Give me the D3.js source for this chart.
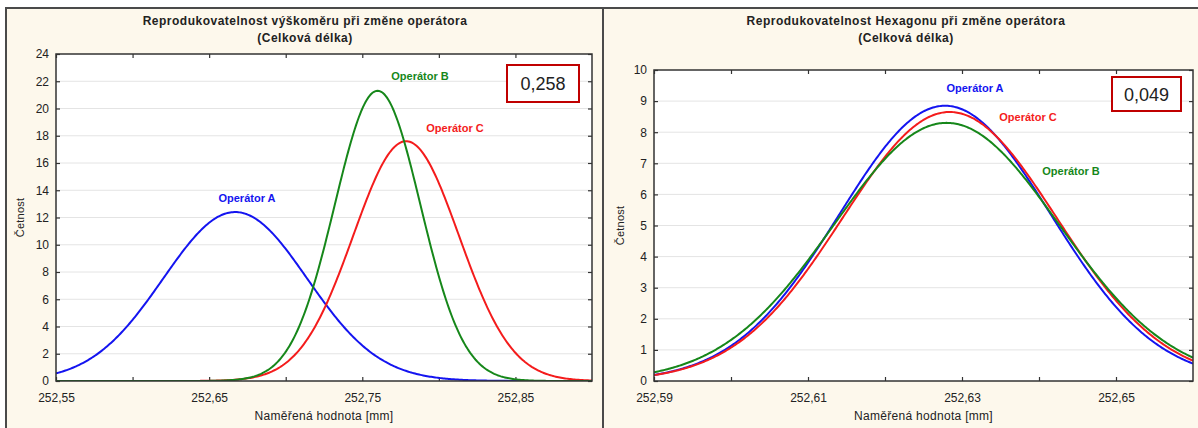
<!DOCTYPE html>
<html><head><meta charset="utf-8">
<script src="https://cdn.jsdelivr.net/npm/d3@7"></script>
<style>
body{margin:0;background:#fff}
svg{display:block}
text{font-family:"Liberation Sans",Arial,sans-serif;fill:#222}
</style>
</head><body>
<svg id="chart" width="1198" height="428"></svg>
<script>
// Operators compared in both panels
const operators = ["Operátor A", "Operátor B", "Operátor C"];

// Left panel: height gauge (výškoměr) – normal fits per operator
const leftMeans  = [252.667, 252.760, 252.7786];
const leftSigmas = [0.047, 0.028, 0.0345];
const leftPeaks  = [12.4, 21.3, 17.6];
const leftXTicks  = [252.55, 252.60, 252.65, 252.70, 252.75, 252.80, 252.85];
const leftXLabels = [252.55, 252.65, 252.75, 252.85];
const leftYTicks  = [0, 2, 4, 6, 8, 10, 12, 14, 16, 18, 20, 22, 24];
const leftValue   = "0,258";

// Right panel: Hexagon CMM – normal fits per operator
const rightMeans  = [252.6278, 252.628, 252.6284];
const rightSigmas = [0.0137, 0.0146, 0.0139];
const rightPeaks  = [8.85, 8.3, 8.65];
const rightXTicks  = [252.59, 252.60, 252.61, 252.62, 252.63, 252.64, 252.65];
const rightXLabels = [252.59, 252.61, 252.63, 252.65];
const rightYTicks  = [0, 1, 2, 3, 4, 5, 6, 7, 8, 9, 10];
const rightValue   = "0,049";

const colors = ["#1414f0", "#16871a", "#f41c1c"];

const cz = d3.formatLocale({decimal: ",", thousands: " ", grouping: [3], currency: ["", " Kč"]});
const fmt2 = cz.format(".2f");

const svg = d3.select("#chart");

// Cream panel background and frame
svg.append("rect").attr("x", 6).attr("y", 8).attr("width", 1192).attr("height", 420).attr("fill", "#fdf8ec");
const frame = svg.append("g").attr("stroke", "#4a4a4a").attr("stroke-width", 2);
frame.append("line").attr("x1", 5).attr("x2", 1198).attr("y1", 8).attr("y2", 8);
frame.append("line").attr("x1", 6).attr("x2", 6).attr("y1", 8).attr("y2", 428);
frame.append("line").attr("x1", 603).attr("x2", 603).attr("y1", 8).attr("y2", 428);

const panels = [
  {
    title: "Reprodukovatelnost výškoměru při změne operátora", titleX: 305,
    box: {x: 56, y: 54, w: 536, h: 327},
    xDomain: [252.55, 252.90], yDomain: [0, 24],
    means: leftMeans, sigmas: leftSigmas, peaks: leftPeaks,
    xTicks: leftXTicks, xLabels: leftXLabels, yTicks: leftYTicks, value: leftValue,
    valueBox: {x: 507, y: 65, w: 72, h: 37},
    labelPos: [[247, 202], [420, 80], [455, 132]]
  },
  {
    title: "Reprodukovatelnost Hexagonu při změne operátora", titleX: 906,
    box: {x: 654, y: 70, w: 539, h: 311},
    xDomain: [252.59, 252.66], yDomain: [0, 10],
    means: rightMeans, sigmas: rightSigmas, peaks: rightPeaks,
    xTicks: rightXTicks, xLabels: rightXLabels, yTicks: rightYTicks, value: rightValue,
    valueBox: {x: 1112, y: 77, w: 69, h: 34},
    labelPos: [[975, 92], [1071, 175], [1028, 121]]
  }
];

panels.forEach((p, pi) => {
  const b = p.box;
  const x = d3.scaleLinear().domain(p.xDomain).range([b.x, b.x + b.w]);
  const y = d3.scaleLinear().domain(p.yDomain).range([b.y + b.h, b.y]);
  const g = svg.append("g");

  // Titles
  g.append("text").attr("x", p.titleX).attr("y", 25).attr("text-anchor", "middle")
    .attr("font-size", 12).attr("font-weight", "bold").attr("letter-spacing", 0.5).text(p.title);
  g.append("text").attr("x", p.titleX).attr("y", 42).attr("text-anchor", "middle")
    .attr("font-size", 12).attr("font-weight", "bold").attr("letter-spacing", 0.5).text("(Celková délka)");

  // Plot area
  g.append("rect").attr("x", b.x).attr("y", b.y).attr("width", b.w).attr("height", b.h).attr("fill", "#fff");

  // Horizontal gridlines
  g.append("g").selectAll("line").data(p.yTicks.filter(v => v > p.yDomain[0] && v < p.yDomain[1])).join("line")
    .attr("x1", b.x).attr("x2", b.x + b.w).attr("y1", d => y(d)).attr("y2", d => y(d))
    .attr("stroke", "#e4e4e4").attr("stroke-width", 1);

  const isLabel = d => p.xLabels.some(v => Math.abs(v - d) < 1e-9);

  // Axes with inward ticks on all four sides
  const ax = g.append("g").attr("transform", `translate(0,${b.y + b.h})`)
    .call(d3.axisBottom(x).tickValues(p.xTicks).tickSize(-4).tickPadding(12)
      .tickFormat(d => isLabel(d) ? fmt2(d) : ""));
  const axTop = g.append("g").attr("transform", `translate(0,${b.y})`)
    .call(d3.axisTop(x).tickValues(p.xTicks).tickSize(-4).tickFormat(""));
  const ay = g.append("g").attr("transform", `translate(${b.x},0)`)
    .call(d3.axisLeft(y).tickValues(p.yTicks).tickSize(-4).tickPadding(7).tickFormat(d3.format("d")));
  const ayR = g.append("g").attr("transform", `translate(${b.x + b.w},0)`)
    .call(d3.axisRight(y).tickValues(p.yTicks).tickSize(-4).tickFormat(""));
  [ax, axTop, ay, ayR].forEach(a => {
    a.select(".domain").remove();
    a.selectAll(".tick line").attr("stroke", "#333").attr("stroke-width", 1.2);
    a.selectAll("text").attr("font-size", 12).attr("font-family", "Liberation Sans, Arial, sans-serif").attr("fill", "#333");
  });

  // Axis titles
  g.append("text").attr("x", b.x + b.w / 2).attr("y", 420).attr("text-anchor", "middle")
    .attr("font-size", 12).attr("letter-spacing", 0.3).attr("fill", "#333").text("Naměřená hodnota [mm]");
  g.append("text").attr("transform", `translate(${pi === 0 ? 24 : 624},${b.y + b.h / 2}) rotate(-90)`)
    .attr("text-anchor", "middle").attr("font-size", 11).attr("letter-spacing", 0.2).attr("fill", "#333").text("Četnost");

  // Normal-distribution curves per operator
  const clipId = "clip" + pi;
  g.append("clipPath").attr("id", clipId).append("rect")
    .attr("x", b.x).attr("y", b.y).attr("width", b.w).attr("height", b.h);
  const xs = d3.range(0, 401).map(i => p.xDomain[0] + (p.xDomain[1] - p.xDomain[0]) * i / 400);
  const line = d3.line().x(d => x(d[0])).y(d => y(d[1]));
  const order = [0, 2, 1];
  order.forEach(k => {
    const pts = xs.map(v => [v, p.peaks[k] * Math.exp(-0.5 * Math.pow((v - p.means[k]) / p.sigmas[k], 2))]);
    g.append("path").datum(pts).attr("d", line).attr("fill", "none")
      .attr("stroke", colors[k]).attr("stroke-width", 2).attr("clip-path", `url(#${clipId})`);
  });

  // Plot frame
  g.append("rect").attr("x", b.x).attr("y", b.y).attr("width", b.w).attr("height", b.h)
    .attr("fill", "none").attr("stroke", "#333").attr("stroke-width", 1.5);

  // Operator labels
  operators.forEach((name, k) => {
    g.append("text").attr("x", p.labelPos[k][0]).attr("y", p.labelPos[k][1]).attr("text-anchor", "middle")
      .attr("font-size", 11).attr("font-weight", "bold").style("fill", colors[k]).text(name);
  });

  // Highlighted value box
  const vb = p.valueBox;
  g.append("rect").attr("x", vb.x).attr("y", vb.y).attr("width", vb.w).attr("height", vb.h)
    .attr("fill", "#fff").attr("stroke", "#c00000").attr("stroke-width", 2);
  g.append("text").attr("x", vb.x + vb.w / 2).attr("y", vb.y + vb.h / 2 + 6.5).attr("text-anchor", "middle")
    .attr("font-size", 18).attr("font-family", "Open Sans, Liberation Sans, sans-serif").style("fill", "#222").text(p.value);
});
</script>
</body></html>
